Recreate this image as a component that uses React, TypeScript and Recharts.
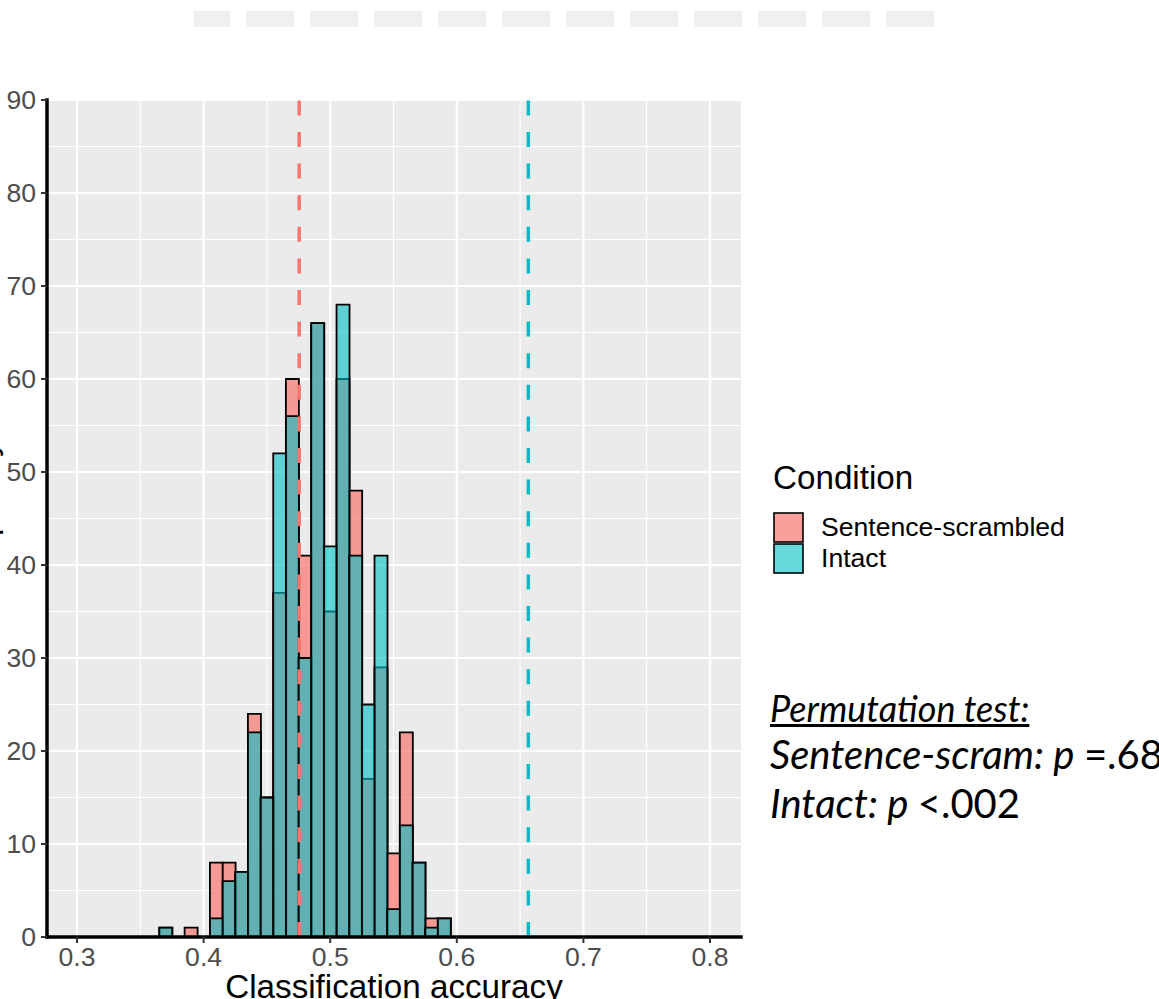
import {
  ComposedChart,
  Bar,
  XAxis,
  YAxis,
  CartesianGrid,
  ReferenceLine,
} from "recharts";

// histogram bin centres (bin width 0.01)
const ACCURACY_BINS = [
  0.37, 0.38, 0.39, 0.4, 0.41, 0.42, 0.43, 0.44, 0.45, 0.46, 0.47, 0.48,
  0.49, 0.5, 0.51, 0.52, 0.53, 0.54, 0.55, 0.56, 0.57, 0.58, 0.59,
];
const SCRAMBLED_COUNTS = [
  1, 0, 1, 0, 8, 8, 7, 24, 15, 37, 60, 41, 66, 35, 60, 48, 17, 29, 9, 22, 8,
  2, 2,
];
const INTACT_COUNTS = [
  1, 0, 0, 0, 2, 6, 7, 22, 15, 52, 56, 30, 66, 42, 68, 41, 25, 41, 3, 12, 8,
  1, 2,
];

const SCRAMBLED_OBSERVED = 0.4755;
const INTACT_OBSERVED = 0.6565;

const X_TICKS = [0.3, 0.4, 0.5, 0.6, 0.7, 0.8];
const X_MINOR = [0.35, 0.45, 0.55, 0.65, 0.75];
const Y_TICKS = [0, 10, 20, 30, 40, 50, 60, 70, 80, 90];
const Y_MINOR = [5, 15, 25, 35, 45, 55, 65, 75, 85];

const X_DOMAIN = [0.2763, 0.8245];
const Y_DOMAIN = [0, 90];

const RED = "#F8766D";
const TEAL = "#00BFC4";
const SANS = "'Liberation Sans', Arial, Helvetica, sans-serif";
const CALLOUT = "Lato, 'Open Sans', sans-serif";

const data = ACCURACY_BINS.map((acc, i) => ({
  acc,
  scrambled: SCRAMBLED_COUNTS[i],
  intact: INTACT_COUNTS[i],
}));

const tickStyle = { fill: "#4D4D4D", fontSize: 26.6, fontFamily: SANS };
const axisLine = { stroke: "#000", strokeWidth: 3.5, strokeLinecap: "square" as const };
const tickLine = { stroke: "#333", strokeWidth: 2 };

export default function App() {
  return (
    <div
      style={{
        position: "absolute",
        left: 0,
        top: 0,
        width: 1159,
        height: 999,
        overflow: "hidden",
        background: "#fff",
      }}
    >
      {/* redacted title blocks */}
      <div
        style={{
          position: "absolute",
          left: 194,
          top: 11,
          display: "flex",
          gap: 16,
        }}
      >
        {[36, 48, 48, 48, 48, 48, 48, 48, 48, 48, 48, 48].map((w, i) => (
          <div key={i} style={{ width: w, height: 16, background: "#F0F0F0" }} />
        ))}
      </div>

      <ComposedChart
        width={1159}
        height={999}
        data={data}
        margin={{ top: 100, right: 418, bottom: 0, left: 0 }}
        barCategoryGap={0}
        barGap={0}
      >
        <CartesianGrid
          fill="#EBEBEB"
          stroke="#fff"
          strokeWidth={1.1}
          verticalValues={X_MINOR}
          horizontalValues={Y_MINOR}
        />
        <CartesianGrid
          stroke="#fff"
          strokeWidth={2.2}
          verticalValues={X_TICKS}
          horizontalValues={Y_TICKS}
        />
        <XAxis
          type="number"
          dataKey="acc"
          domain={X_DOMAIN}
          allowDataOverflow
          ticks={X_TICKS}
          tickFormatter={(v: number) => v.toFixed(1)}
          height={62}
          tick={tickStyle}
          tickSize={6}
          tickMargin={4}
          axisLine={axisLine}
          tickLine={tickLine}
          label={{
            value: "Classification accuracy",
            position: "insideBottom",
            offset: 1,
            style: { fontSize: 33.2, fill: "#000", fontFamily: SANS },
          }}
        />
        <XAxis
          xAxisId="overlay"
          type="number"
          dataKey="acc"
          domain={X_DOMAIN}
          allowDataOverflow
          hide
        />
        <YAxis
          type="number"
          domain={Y_DOMAIN}
          allowDataOverflow
          ticks={Y_TICKS}
          width={47}
          tick={tickStyle}
          tickSize={6}
          tickMargin={5}
          axisLine={axisLine}
          tickLine={tickLine}
          label={{
            value: "Frequency",
            angle: -90,
            position: "insideLeft",
            offset: -15.8,
            style: {
              textAnchor: "middle",
              fontSize: 33.2,
              fill: "#000",
              fontFamily: SANS,
            },
          }}
        />
        <Bar
          dataKey="scrambled"
          fill={RED}
          fillOpacity={0.7}
          stroke="#000"
          strokeWidth={1.8}
          isAnimationActive={false}
        />
        <Bar
          dataKey="intact"
          xAxisId="overlay"
          fill={TEAL}
          fillOpacity={0.6}
          stroke="#000"
          strokeWidth={1.8}
          isAnimationActive={false}
        />
        <ReferenceLine
          x={SCRAMBLED_OBSERVED}
          stroke={RED}
          strokeWidth={3.5}
          strokeDasharray="15 16.6"
        />
        <ReferenceLine
          x={INTACT_OBSERVED}
          stroke={TEAL}
          strokeWidth={3.5}
          strokeDasharray="15 16.6"
        />
      </ComposedChart>

      {/* legend */}
      <div style={{ position: "absolute", left: 773, top: 458, fontFamily: SANS }}>
        <div style={{ fontSize: 33.2, lineHeight: "40px", color: "#000" }}>Condition</div>
        {[
          { label: "Sentence-scrambled", color: RED, op: 0.7 },
          { label: "Intact", color: TEAL, op: 0.6 },
        ].map((item, i) => (
          <div
            key={item.label}
            style={{
              position: "absolute",
              top: 54 + i * 31,
              left: 0,
              display: "flex",
              alignItems: "center",
              whiteSpace: "nowrap",
            }}
          >
            <svg width={32} height={31} style={{ display: "block" }}>
              <rect
                x={1}
                y={1}
                width={29}
                height={29}
                fill={item.color}
                fillOpacity={item.op}
                stroke="#000"
                strokeWidth={1.6}
              />
            </svg>
            <span style={{ fontSize: 26.6, marginLeft: 16, color: "#000" }}>
              {item.label}
            </span>
          </div>
        ))}
      </div>

      {/* permutation test callout */}
      <div
        style={{
          position: "absolute",
          left: 770,
          top: 686,
          fontFamily: CALLOUT,
          color: "#000",
          whiteSpace: "nowrap",
        }}
      >
        <div style={{ fontSize: 36, fontStyle: "italic", textDecoration: "underline", lineHeight: "44px" }}>
          Permutation test:
        </div>
        <div style={{ fontSize: 40, lineHeight: "49px" }}>
          <i>Sentence-scram: p </i>=.68
        </div>
        <div style={{ fontSize: 40, lineHeight: "49px" }}>
          <i>Intact: p </i>&lt;.002
        </div>
      </div>
    </div>
  );
}
